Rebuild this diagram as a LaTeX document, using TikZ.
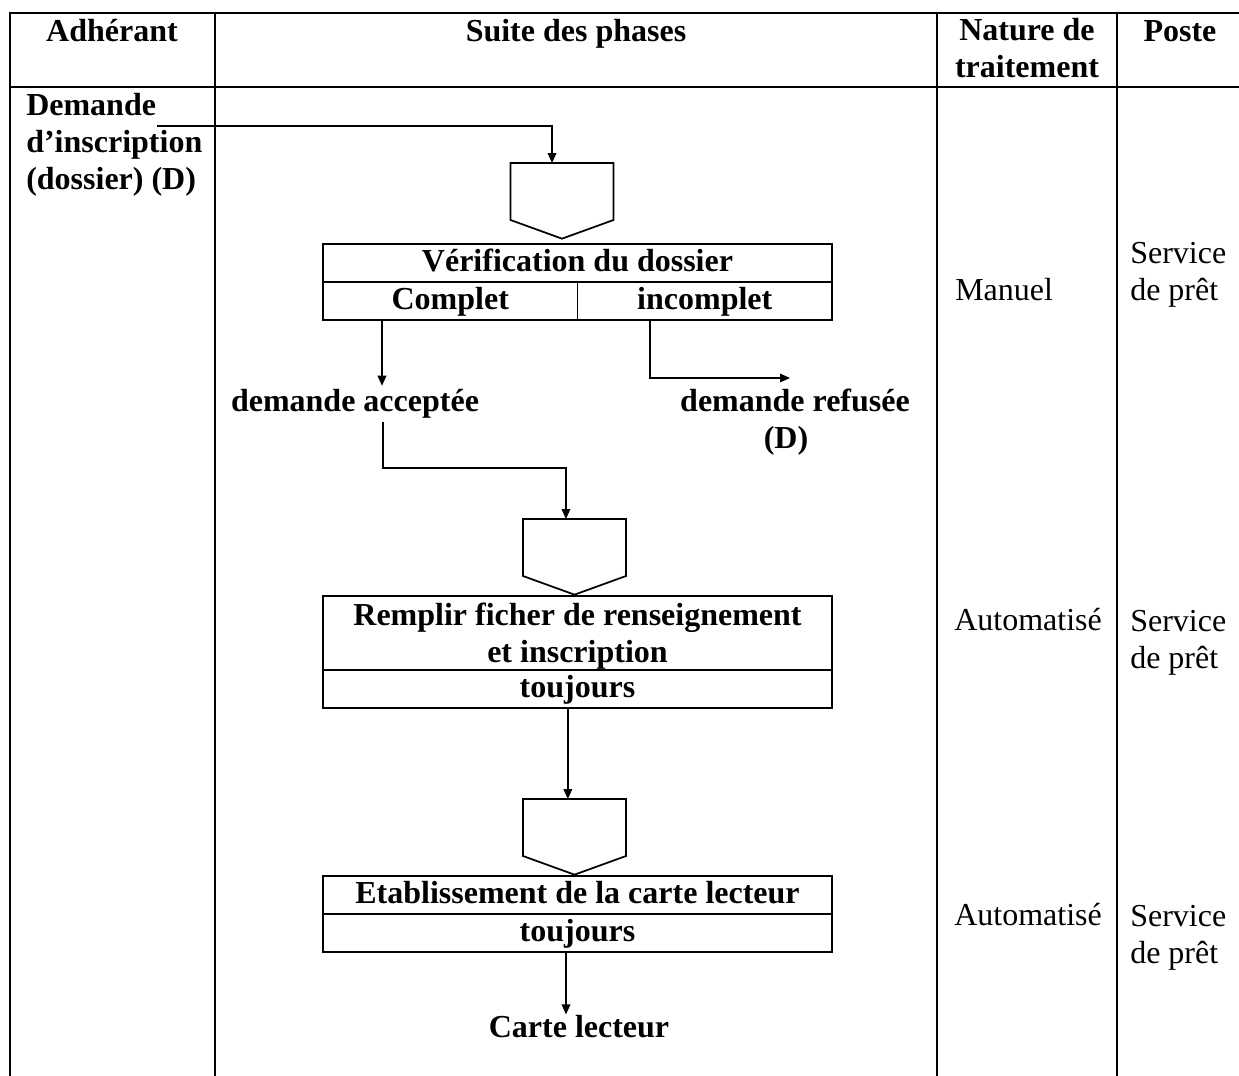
\documentclass[tikz,border=0pt]{standalone}
\usepackage{fontspec}
\setmainfont{Liberation Serif}
\usetikzlibrary{arrows.meta}
\begin{document}
\fontsize{24}{27.75}\selectfont
\begin{tikzpicture}[x=0.75pt,y=-0.75pt,
  grid/.style={line width=1.5pt},
  boxline/.style={line width=1.3pt, line join=miter},
  arr/.style={line width=1pt,-{Triangle[length=7.5pt,width=6.5pt]}},
  hd/.style={font=\bfseries, inner sep=0pt, anchor=base},
  rowbox/.style={draw, line width=1.3pt, inner sep=0pt, outer sep=0pt, font=\bfseries,
                 text height=20.25pt, text depth=8.25pt, minimum width=381.75pt},
  cell/.style={rowbox, minimum width=190.875pt},
  pbody/.style={inner sep=0pt, outer sep=0pt, minimum width=77.25pt, minimum height=42.75pt},
  lbl/.style={font=\bfseries, inner sep=0pt, text height=18.75pt, text depth=8.25pt, anchor=base},
  rg/.style={inner sep=0pt, anchor=base west, align=left}
]
\useasboundingbox (0,0) rectangle (1239,1075);

% table frame
\draw[grid] (10,1080) -- (10,13) -- (1245,13);
\draw[grid] (10,87) -- (1245,87);
\foreach \x in {215,937,1117} \draw[grid] (\x,13) -- (\x,1080);

% header (multi-line nodes: base = last line)
\node[hd] (hA) at (112,41) {Adhérant};
\node[hd] (hS) at (576,41) {Suite des phases};
\node[hd, align=center] (hN) at (1027,77) {Nature de\\traitement};
\node[hd] (hP) at (1180,41) {Poste};

% member column
\node[hd, anchor=base west, align=left] (dem) at (26,189) {Demande\\d’inscription\\(dossier) (D)};
\coordinate (c0) at (157,126);

% pentagon markers
\node[pbody] (p1) at (562,191.5) {};
\node[pbody] (p2) at (574.5,547.5) {};
\node[pbody] (p3) at (574.5,827.5) {};
\foreach \p in {p1,p2,p3}
  \draw[boxline] (\p.south west) -- (\p.north west) -- (\p.north east) -- (\p.south east)
    -- ([yshift=-14pt]\p.south) -- cycle;

% operation boxes
\node[rowbox] (vt) at (577.5,263) {Vérification du dossier};
\node[cell] (vc) at (450.25,301) {Complet};
\node[cell] (vi) at (704.75,301) {incomplet};

\node[rowbox, align=center, text height=49.5pt, text depth=6pt] (rf) at (577.5,633)
  {Remplir ficher de renseignement\\et inscription};
\node[rowbox] (rt) at (577.5,689) {toujours};

\node[rowbox] (et) at (577.5,895) {Etablissement de la carte lecteur};
\node[rowbox] (eu) at (577.5,933) {toujours};

% outcomes
\node[lbl] (acc) at (355,411) {demande acceptée};
\node[lbl] (ref) at (795,411) {demande refusée};
\node[lbl] (refd) at (786,448) {(D)};
\node[lbl] (carte) at (579,1037) {Carte lecteur};

% right columns
\node[rg] (n1) at (955,300) {Manuel};
\node[rg] (s1) at (1130,300) {Service\\de prêt};
\node[rg] (n2) at (954,630) {Automatisé};
\node[rg] (s2) at (1130,668) {Service\\de prêt};
\node[rg] (n3) at (954,925) {Automatisé};
\node[rg] (s3) at (1130,963) {Service\\de prêt};

% flow
\draw[arr] (c0) -| ([xshift=-7.5pt]p1.north);

\coordinate (cx) at ([xshift=-51.2pt]vc.south);
\draw[arr] (cx) -- (cx |- acc.north);

\coordinate (ix) at ([xshift=-41.06pt]vi.south);
\coordinate (rend) at (790,378);
\draw[arr] (ix) |- (rend);

\coordinate (k1) at (383,468);
\draw[arr] (acc.south -| k1) -- (k1) -| ([xshift=-6.4pt]p2.north);

\coordinate (px3) at ([xshift=-5pt]p3.north);
\draw[arr] (px3 |- rt.south) -- (px3);

\coordinate (xc) at (566,0);
\draw[arr] (eu.south -| xc) -- ([yshift=-2pt]carte.north -| xc);
\end{tikzpicture}
\end{document}
